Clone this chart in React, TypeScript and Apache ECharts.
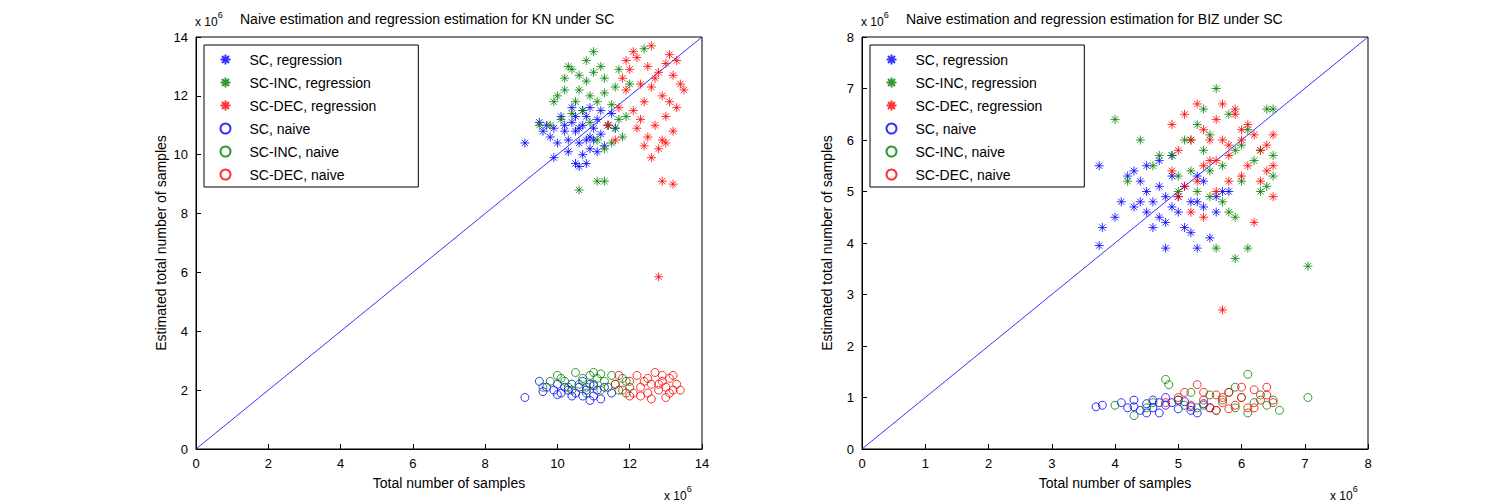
import { useRef, useEffect } from 'react'
import * as echarts from 'echarts'

type P = [number, number]

// values in units of 1e6
const knScReg: P[] = [[10.5,10.8],[10.7,11.0],[10.9,10.6],[11.0,10.9],[10.6,10.4],[10.8,11.3],[11.2,10.7],[10.4,11.1],[10.3,10.5],[11.1,11.2],[10.9,10.2],[10.7,10.0],[10.5,9.7],[10.2,10.8],[9.9,10.9],[9.7,11.0],[9.6,10.8],[10.0,10.4],[11.3,10.3],[11.4,11.0],[11.6,10.9],[10.6,9.6],[10.8,9.7],[11.1,10.1],[10.9,11.6],[10.4,11.6],[10.1,11.3],[9.5,11.1],[9.1,10.4],[9.9,9.9],[10.6,10.9],[10.8,10.5],[11.0,10.5],[10.3,10.1],[11.5,11.4],[10.7,11.5],[11.2,11.5],[10.2,11.0],[10.5,11.3],[9.8,10.6]]
const knIncReg: P[] = [[10.2,12.6],[10.4,12.9],[10.6,12.2],[10.8,12.5],[11.0,12.8],[11.2,13.0],[11.0,13.5],[10.3,13.0],[10.0,12.0],[9.9,11.8],[10.5,11.8],[10.7,11.5],[11.1,11.8],[11.3,12.1],[11.5,11.7],[11.7,11.2],[11.4,11.0],[11.6,10.9],[11.8,10.6],[12.0,12.4],[11.9,11.3],[10.1,11.2],[9.8,11.0],[9.5,11.0],[10.9,12.0],[10.6,12.7],[10.8,13.2],[11.3,12.6],[11.6,12.3],[10.4,11.4],[11.1,10.5],[11.3,10.2],[11.1,9.1],[11.3,9.1],[10.6,8.8],[11.5,10.4],[10.2,12.2],[11.7,12.9],[12.4,13.6],[10.9,11.1]]
const knDecReg: P[] = [[12.2,13.3],[12.5,13.0],[12.8,12.8],[13.0,13.1],[13.2,12.7],[13.4,12.4],[12.6,12.3],[12.9,12.0],[13.1,11.8],[12.4,11.8],[12.1,11.5],[12.3,11.2],[12.7,11.0],[13.0,11.3],[13.2,10.8],[12.9,10.5],[12.5,10.6],[11.8,12.6],[11.9,12.2],[11.7,11.6],[12.0,12.9],[12.6,13.7],[13.1,13.4],[13.5,12.2],[12.2,10.9],[12.8,10.2],[13.0,10.4],[11.6,10.5],[12.4,10.3],[12.8,5.85],[12.9,9.1],[13.2,9.0],[12.6,9.9],[13.3,11.6],[12.1,13.5],[11.9,13.2],[12.7,12.6],[13.3,13.2],[12.3,12.4],[11.4,11.0]]
const knScNaive: P[] = [[9.1,1.75],[9.5,2.3],[9.7,2.1],[9.9,2.0],[10.0,2.2],[10.1,1.9],[10.2,2.1],[10.3,2.0],[10.4,2.2],[10.5,1.9],[10.6,2.1],[10.7,1.8],[10.8,2.0],[10.9,2.2],[11.0,1.8],[11.1,2.0],[11.2,1.7],[11.3,2.1],[11.5,1.9],[10.4,1.8],[10.7,2.3],[10.0,1.85],[11.0,2.15],[9.6,1.95],[10.9,1.65]]
const knIncNaive: P[] = [[9.6,2.1],[9.8,2.3],[10.0,2.5],[10.2,2.3],[10.3,2.1],[10.5,2.6],[10.6,2.2],[10.7,2.4],[10.8,2.1],[10.9,2.5],[11.0,2.2],[11.1,2.4],[11.2,2.0],[11.3,2.3],[11.4,2.1],[11.5,2.5],[11.6,2.2],[11.7,2.0],[11.8,2.4],[11.9,2.3],[12.0,2.1],[10.4,2.0],[11.0,2.6],[10.1,2.4],[11.9,1.9],[10.8,1.9],[11.2,2.55]]
const knDecNaive: P[] = [[11.6,2.2],[11.7,2.5],[11.8,2.0],[12.0,2.3],[12.1,1.9],[12.2,2.5],[12.3,2.1],[12.4,2.3],[12.5,1.9],[12.6,2.2],[12.7,2.6],[12.8,2.0],[12.9,2.3],[13.0,2.1],[13.0,1.75],[13.1,2.4],[13.2,2.0],[13.3,2.2],[13.4,2.0],[12.6,1.7],[12.9,2.5],[13.2,2.5],[12.3,1.8],[12.8,2.2],[13.1,1.9],[12.5,2.4],[12.0,1.8]]

const bizScReg: P[] = [[3.75,5.5],[3.8,4.3],[3.75,3.95],[4.2,5.3],[4.3,5.4],[4.4,5.2],[4.5,5.0],[4.5,4.6],[4.6,4.8],[4.7,4.5],[4.7,5.1],[4.8,4.9],[4.8,4.4],[4.9,4.7],[4.9,5.3],[5.0,4.6],[5.0,4.9],[5.1,5.1],[5.1,4.3],[5.2,4.8],[5.2,4.2],[5.3,3.9],[5.3,5.3],[5.4,4.7],[5.5,4.1],[5.6,4.6],[5.7,5.0],[5.8,5.0],[4.6,4.3],[4.4,4.8],[4.1,4.8],[4.0,4.5],[4.9,5.7],[4.7,5.6],[5.3,4.8],[4.5,5.5],[4.8,3.9],[5.6,4.9],[5.4,5.2],[4.3,4.7]]
const bizIncReg: P[] = [[4.0,6.4],[4.2,5.2],[4.4,6.0],[4.9,5.7],[5.0,5.3],[5.1,6.0],[5.2,5.4],[5.3,6.3],[5.4,5.8],[5.5,6.1],[5.6,7.0],[5.7,5.5],[5.8,6.5],[5.9,5.8],[6.0,5.2],[6.1,6.2],[6.2,5.6],[6.3,5.0],[6.4,6.6],[6.5,5.3],[6.5,6.6],[5.8,4.6],[5.9,4.5],[5.6,3.9],[6.1,3.9],[7.05,3.55],[5.7,4.8],[5.5,4.9],[5.3,5.0],[6.4,5.1],[6.0,5.9],[5.4,6.6],[4.6,5.5],[5.2,6.0],[6.3,5.8],[5.0,5.0],[4.7,5.7],[5.9,3.7],[6.5,5.7],[5.5,5.4]]
const bizDecReg: P[] = [[4.9,6.3],[5.0,5.8],[5.1,6.5],[5.2,6.0],[5.3,6.7],[5.4,6.2],[5.5,5.6],[5.6,6.4],[5.7,6.0],[5.8,5.7],[5.9,6.5],[6.0,6.2],[6.1,5.5],[6.2,6.1],[6.3,5.8],[6.4,5.4],[6.5,6.1],[6.5,5.5],[5.6,5.0],[5.8,5.2],[6.0,5.3],[5.2,4.6],[5.4,4.5],[5.0,4.9],[6.2,4.4],[6.4,5.9],[5.7,2.7],[5.9,6.6],[5.5,6.0],[5.3,5.2],[6.1,6.3],[5.7,6.7],[4.9,5.4],[5.1,5.1],[6.3,5.2],[5.6,5.6],[6.0,6.0],[5.8,5.9],[6.5,4.9],[5.4,5.5]]
const bizScNaive: P[] = [[3.7,0.82],[3.8,0.85],[4.1,0.9],[4.2,0.8],[4.3,0.95],[4.4,0.75],[4.5,0.88],[4.6,0.8],[4.6,0.95],[4.7,0.7],[4.8,0.85],[4.9,0.9],[5.0,0.78],[5.1,0.92],[5.2,0.82],[5.3,0.7],[5.4,0.88],[5.5,0.8],[4.5,0.7],[4.8,1.0],[4.3,0.82],[5.0,0.95],[4.7,0.9],[5.2,0.75]]
const bizIncNaive: P[] = [[4.0,0.85],[4.3,0.65],[4.6,0.9],[4.8,1.35],[4.85,1.25],[5.0,0.95],[5.2,1.1],[5.4,0.85],[5.5,1.05],[5.6,0.75],[5.7,0.95],[5.8,1.1],[5.9,0.8],[6.0,1.0],[6.1,1.45],[6.2,0.9],[6.3,1.05],[6.4,0.85],[6.5,0.95],[6.6,0.75],[7.05,1.0],[5.3,0.8],[5.9,1.2],[6.1,0.7],[5.1,0.85],[4.5,0.8]]
const bizDecNaive: P[] = [[4.8,0.9],[5.0,1.0],[5.2,0.85],[5.3,1.25],[5.4,0.95],[5.5,0.8],[5.6,1.05],[5.7,0.9],[5.8,1.1],[5.9,0.85],[6.0,1.0],[6.1,0.8],[6.2,1.15],[6.3,0.95],[6.4,1.05],[6.5,0.9],[5.6,0.75],[6.0,1.2],[5.4,1.1],[5.8,0.78],[6.2,0.8],[5.1,1.1],[5.7,1.0],[6.4,1.2]]

const names = ['SC, regression', 'SC-INC, regression', 'SC-DEC, regression', 'SC, naive', 'SC-INC, naive', 'SC-DEC, naive']
const colors = ['#0000ff', '#008000', '#ff0000', '#0000ff', '#008000', '#ff0000']
const titles = ['Naive estimation and regression estimation for KN under SC', 'Naive estimation and regression estimation for BIZ under SC']

const STAR = 'path://M5 0L5 10M0 5L10 5M1.5 1.5L8.5 8.5M8.5 1.5L1.5 8.5'
const FONT = 'Liberation Sans, Arial, sans-serif'

function scatter(name: string, idx: number, data: P[], g: number) {
  const star = idx < 3
  return {
    name,
    type: 'scatter',
    xAxisIndex: g,
    yAxisIndex: g,
    data,
    symbol: star ? STAR : 'circle',
    symbolSize: star ? 9 : 8,
    itemStyle: { color: 'none', borderColor: colors[idx], borderWidth: 1 },
    z: 3,
  }
}

function axes(g: number, max: number) {
  const common = {
    gridIndex: g,
    type: 'value',
    min: 0,
    max,
    interval: max === 14 ? 2 : 1,
    axisLine: { lineStyle: { color: '#000' } },
    axisTick: { inside: true, lineStyle: { color: '#000' } },
    axisLabel: { color: '#000', fontSize: 13, fontFamily: FONT },
    splitLine: { show: false },
    nameLocation: 'middle',
    nameTextStyle: { color: '#000', fontSize: 14, fontFamily: FONT },
  }
  return {
    x: { ...common, name: 'Total number of samples', nameGap: 27 },
    y: { ...common, name: 'Estimated total number of samples', nameGap: 28 },
  }
}

export default function App() {
  const ref = useRef<HTMLDivElement>(null)

  useEffect(() => {
    document.body.style.margin = '0'
    if (!ref.current) return
    const chart = echarts.init(ref.current, null, { renderer: 'svg' })
    const a0 = axes(0, 14)
    const a1 = axes(1, 8)
    const sets = [
      [knScReg, knIncReg, knDecReg, knScNaive, knIncNaive, knDecNaive],
      [bizScReg, bizIncReg, bizDecReg, bizScNaive, bizIncNaive, bizDecNaive],
    ]
    const series: any[] = []
    sets.forEach((s, g) => {
      s.forEach((d, i) => series.push(scatter(names[i], i, d, g)))
      const m = g === 0 ? 14 : 8
      series.push({
        type: 'line',
        xAxisIndex: g,
        yAxisIndex: g,
        data: [[0, 0], [m, m]],
        symbol: 'none',
        lineStyle: { color: '#0000ff', width: 0.8 },
        z: 2,
        silent: true,
      })
    })
    const legend = (left: number) => ({
      left,
      top: 45,
      orient: 'vertical',
      data: names,
      backgroundColor: '#fff',
      borderColor: '#000',
      borderWidth: 1,
      padding: [7, 42, 5, 14],
      itemGap: 8,
      itemWidth: 10,
      itemHeight: 13,
      textStyle: { color: '#000', fontSize: 14, fontFamily: FONT, padding: [0, 0, 0, 14] },
      selectedMode: false,
    })
    const expText = (x: number, y: number) => ({
      type: 'text',
      left: x,
      top: y,
      style: {
        text: '{a|x 10}{b|6}',
        rich: {
          a: { fontSize: 12, fontFamily: FONT, fill: '#000', padding: [6, 0, 0, 0] },
          b: { fontSize: 9, fontFamily: FONT, fill: '#000', verticalAlign: 'top' },
        },
      },
    })
    chart.setOption({
      animation: false,
      backgroundColor: '#fff',
      grid: [
        { left: 196, top: 37, width: 506, height: 412, show: true, borderColor: '#000', borderWidth: 1 },
        { left: 862, top: 37, width: 506, height: 412, show: true, borderColor: '#000', borderWidth: 1 },
      ],
      xAxis: [a0.x, a1.x],
      yAxis: [a0.y, a1.y],
      legend: [legend(204), legend(870)],
      graphic: [
        expText(195, 10),
        expText(861, 10),
        expText(664, 484),
        expText(1330, 484),
        { type: 'text', left: 240, top: 12, style: { text: titles[0], fontSize: 14, fontFamily: FONT, fill: '#000' } },
        { type: 'text', left: 906, top: 12, style: { text: titles[1], fontSize: 14, fontFamily: FONT, fill: '#000' } },
      ],
      series,
    })
    return () => chart.dispose()
  }, [])

  return <div ref={ref} style={{ width: 1511, height: 504 }} />
}
